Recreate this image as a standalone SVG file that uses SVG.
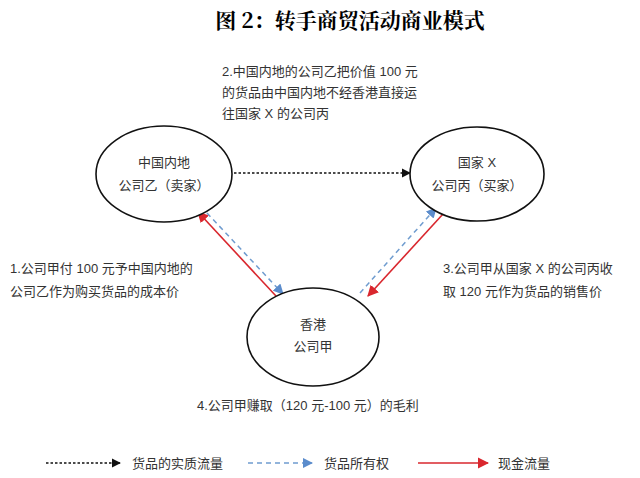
<svg xmlns="http://www.w3.org/2000/svg" width="640" height="478" viewBox="0 0 640 478">
<style>
text{font-family:"Liberation Sans","Noto Sans CJK SC",sans-serif;font-size:13px;fill:#333}
.c{text-anchor:middle}
.n{fill:#fff;stroke:#111;stroke-width:1.6}
.k{stroke:#111;stroke-width:1.3;stroke-dasharray:2.5 2;fill:none}
.b{stroke:#6f9ccf;stroke-width:1.5;stroke-dasharray:5 4;fill:none}
.r{stroke:#d9272e;stroke-width:1.6;fill:none}
</style>
<defs>
<marker id="mk" viewBox="0 0 10 10" refX="9" refY="5" markerWidth="7" markerHeight="7" orient="auto"><path d="M0,0L10,5L0,10z" fill="#111"/></marker>
<marker id="mb" viewBox="0 0 10 10" refX="9" refY="5" markerWidth="7" markerHeight="7" orient="auto"><path d="M0,0L10,5L0,10z" fill="#5b8ccc"/></marker>
<marker id="mr" viewBox="0 0 10 10" refX="9" refY="5" markerWidth="7" markerHeight="7" orient="auto"><path d="M0,0L10,5L0,10z" fill="#d9272e"/></marker>
</defs>
<rect width="640" height="478" fill="#fff"/>
<text x="350" y="28" class="c" style="font-family:'Noto Serif CJK SC','Noto Sans CJK SC',serif;font-size:21px;font-weight:bold;fill:#000">图 2：转手商贸活动商业模式</text>
<text x="222" y="76">2.中国内地的公司乙把价值 100 元</text>
<text x="222" y="97">的货品由中国内地不经香港直接运</text>
<text x="222" y="118">往国家 X 的公司丙</text>
<g id="connectors">
<line x1="234" y1="173" x2="410" y2="173" class="k" marker-end="url(#mk)"/>
<line x1="276" y1="296" x2="198" y2="212" class="r" marker-end="url(#mr)"/>
<line x1="207" y1="213" x2="283" y2="294" class="b" marker-end="url(#mb)"/>
<line x1="360" y1="293" x2="436" y2="208" class="b" marker-end="url(#mb)"/>
<line x1="443" y1="214" x2="368" y2="296" class="r" marker-end="url(#mr)"/>
</g>
<g id="seller"><ellipse cx="164" cy="174" rx="68" ry="48" class="n"/><text x="164" y="167" class="c">中国内地</text><text x="164" y="190" class="c">公司乙（卖家）</text></g>
<g id="buyer"><ellipse cx="477" cy="174" rx="67" ry="47" class="n"/><text x="477" y="167" class="c">国家 X</text><text x="477" y="190" class="c">公司丙（买家）</text></g>
<g id="hk"><ellipse cx="313" cy="337" rx="66" ry="49" class="n"/><text x="313" y="329" class="c">香港</text><text x="313" y="351" class="c">公司甲</text></g>
<text x="10" y="273">1.公司甲付  100  元予中国内地的</text>
<text x="10" y="296">公司乙作为购买货品的成本价</text>
<text x="443" y="273">3.公司甲从国家 X 的公司丙收</text>
<text x="443" y="296">取 120 元作为货品的销售价</text>
<text x="197" y="410">4.公司甲赚取（120 元-100 元）的毛利</text>
<g id="legend">
<line x1="46" y1="463" x2="120" y2="463" class="k" marker-end="url(#mk)"/>
<text x="132" y="468">货品的实质流量</text>
<line x1="248" y1="463" x2="312" y2="463" class="b" marker-end="url(#mb)"/>
<text x="324" y="468">货品所有权</text>
<line x1="418" y1="463" x2="488" y2="463" class="r" marker-end="url(#mr)"/>
<text x="498" y="468">现金流量</text>
</g>
</svg>
